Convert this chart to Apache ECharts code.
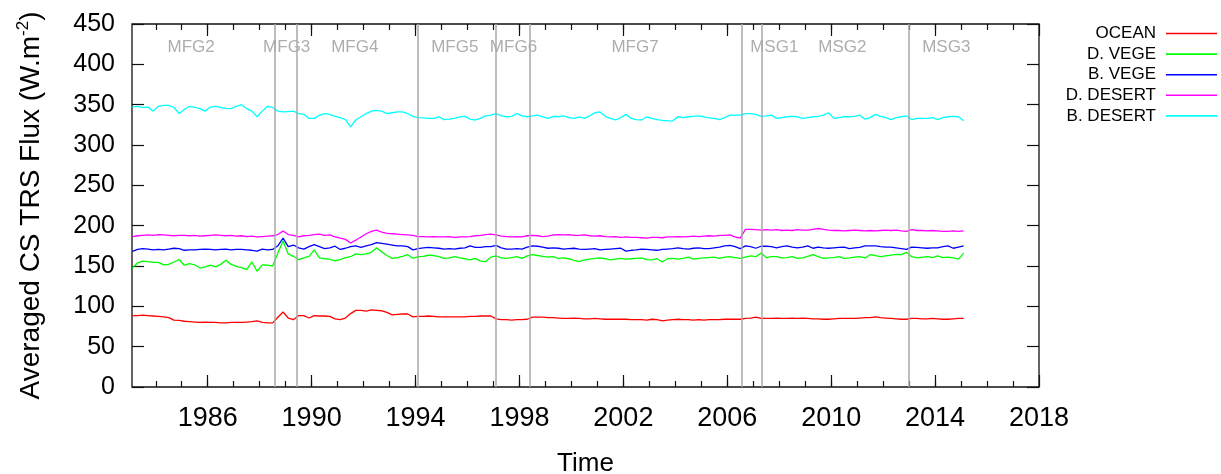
<!DOCTYPE html>
<html><head><meta charset="utf-8">
<script src="https://cdn.jsdelivr.net/npm/echarts@6/dist/echarts.min.js"></script>
<style>html,body{margin:0;padding:0;background:#fff}#c{width:1221px;height:474px}</style>
</head><body><div id="c"></div>
<script>
// sampling of the time axis (decimal years)
const START_YEAR = 1983.1;
const STEP = 0.2;

const ocean = [
88.5,88.5,89,88.5,88,87.5,87,86,83,82.5,
81.5,81,80.5,80,80.5,80,80,79.5,79.5,80,
80,80,80.5,81,82,80,79.5,79.5,86.5,93,
85.5,83.5,88.5,88.5,85.5,88.5,88,88,87.5,84.5,
83.5,85.5,91,95,95,94,95.5,95,94.5,92.5,
89.5,90,90.5,90.5,87,87.5,87.5,88,87.5,87,
87,87,87,87,87,87.5,87.5,88,88,88,
84.5,83.5,83.5,83,83.5,83.5,84,86.5,86.5,86.5,
86,86,85.5,85,85,85.5,85,84.5,84.5,85,
84.5,84,84,84,84,84,83.5,83.5,83.5,83,
84,83.5,82,83,83.5,84,83.5,83.5,83,83.5,
83,83.5,83.5,83.5,84,84,84,84,85,85.5,
86.5,85,85,85,85.5,85,85,85.5,85,85.5,
85,84.5,84.5,84,84,84.5,85,85,85,85,
85.5,86,86,87,86,85.5,85,84.5,84,84,
85,85,84.5,84.5,85,84.5,84,84,84.5,85,
85];
const dVege = [
147.5,154,156,155.5,154.5,154.5,151.5,152,155,158,
151,153,151.5,147.5,149,151,149,152,157,152,
149.5,148,145.5,155,143.5,151.5,151,150,166,181,
165,162,158,160,162,170,160,159,158.5,156.5,
158,160.5,161.5,165,164,165,167,172.5,167.5,163,
159.5,160.5,162,164,159.5,161.5,162,163.5,163,161.5,
159.5,160,161.5,160,159,157.5,159.5,156,155.5,161,
162.5,160,159.5,160.5,161.5,159.5,162.5,164,163,162,
161,161.5,159.5,160,159,157,155.5,157.5,158.5,159.5,
160,159,157.5,158.5,159.5,158.5,159,159.5,160,158,
157.5,159,155,159,159.5,158.5,159.5,161,158.5,159.5,
160,160.5,161,159.5,161,161.5,160.5,159.5,161,162.5,
161.5,166,160.5,161.5,161.5,160,160.5,161.5,159.5,160,
162,164,161.5,159.5,160,160.5,161.5,159.5,160,161,
161.5,160,164,163,161.5,162.5,163.5,164.5,164,167,
161.5,160,161,161.5,160.5,162.5,160.5,161,160,158.5,
166];
const bVege = [
168,170.5,171.5,171,170,170.5,170,171,172,171.5,
169.5,170,170,170.5,171,170.5,170,170.5,171,170,
170.5,170.5,170,169.5,168.5,171,170,170.5,175,184.5,
174,176,172.5,171,174,176.5,174,171.5,172.5,174.5,
170.5,172,174,175,173,175,176.5,179,178,177,
176,175,175,174,170,171.5,172.5,173,172.5,172,
171,171.5,171,172,172.5,175,173,173,174,174,
175.5,172.5,171,171,171.5,171,173.5,175,174.5,173.5,
172,172.5,172,171,171.5,172,171,170.5,171,171.5,
170,170.5,171,171.5,172,168.5,169.5,170,171,170.5,
170,169.5,170.5,171,171.5,172.5,171.5,171,172,172.5,
171.5,171.5,172.5,173.5,175,175.5,174,171.5,175,174,
172,174.5,174.5,174,172.5,174,175,173.5,172.5,173.5,
175,172,173.5,172.5,172,172.5,173,173.5,171.5,172.5,
173,175,175,175,174,173.5,173.5,172.5,171.5,170.5,
173.5,173,172.5,172,172.5,172.5,174,175,172,173.5,
175];
const dDesert = [
186.5,187.5,188,188.5,188,189,188.5,188,187.5,188,
188,187.5,188,187,187.5,188,188.5,188,187.5,188,
187,187.5,186.5,187,186,186.5,187,187.5,189,193.5,
189,188,186,187.5,188,189,189.5,188,188.5,186,
184.5,183,178.5,182,186,190,193,194.5,192,190.5,
190,189.5,189,188.5,188,186.5,186.5,186,186.5,186,
186,186.5,185.5,186,186,186.5,187.5,188,189,189.5,
188.5,187,186.5,186,186.5,186,187.5,188,187.5,186.5,
187,188.5,189,188.5,189,188,188,188.5,187.5,187,
187.5,186.5,186,186.5,185.5,186,185.5,185.5,185,184.5,
185.5,185.5,185,186,186,186.5,186,186.5,187,186.5,
187,187.5,187,188,188,188.5,186,184.5,195.5,195.5,
195,194.5,195,194.5,195,194,194.5,194,195,194.5,
194.5,195.5,196.5,195.5,194.5,194,194,193.5,194,194.5,
194,193.5,194,193.5,194,194.5,194,194.5,193.5,193,
195,194,194,193.5,194,193.5,193,193,193.5,193,
193.5];
const bDesert = [
347,348,346.5,347,342,348,349,349,346.5,339,
344,348,346.5,345,342,347,348,346.5,345.5,345,
348,350,345,342,335,342,348,346.5,342,341,
341.5,342,339,338,333,333,337,339,338,335.5,
334,331.5,322.5,331,335,339,342,343,342,339,
340,341,341,339,335.5,334,333.5,333,333,335,
331.5,332,333,335,335.5,332,331,333,336,337,
339,336,335,335.5,339,336,335,336,337,335,
333,335.5,335,336,334,333,335,333,336,340,
341,335.5,333,331,334,338,333,331.5,331,335,
333,331.5,330.5,330,330,335,334,335,335.5,336,
335,333.5,333,331.5,334,337,337,337,339,339,
338,335.5,336,337,333,334,335,335.5,335,333,
334,335,335.5,337,340,333,334,335,335,335.5,
337,332,334,338,335.5,334,331.5,334,335,336,
331.5,333,333,333,334,331.5,334,335,335.5,335,
330];

const seriesNames = ['OCEAN', 'D. VEGE', 'B. VEGE', 'D. DESERT', 'B. DESERT'];
const seriesValues = [ocean, dVege, bVege, dDesert, bDesert];
const seriesColors = ['#ff0000', '#00ff00', '#0000ff', '#ff00ff', '#00ffff'];

const xMajorTicks = [1986, 1990, 1994, 1998, 2002, 2006, 2010, 2014, 2018];
const xMinorTicks = [1984,1985,1986,1987,1988,1989,1990,1991,1992,1993,1994,1995,1996,1997,1998,1999,2000,
  2001,2002,2003,2004,2005,2006,2007,2008,2009,2010,2011,2012,2013,2014,2015,2016,2017];
const X_MIN = 1983.085, X_MAX = 2018;
const Y_MIN = 0, Y_MAX = 450, Y_STEP = 50;

// satellite change dates (vertical lines) and satellite names
const transitions = [1988.59, 1989.44, 1994.07, 1997.10, 1998.40, 2006.54, 2007.33, 2013.0];
const satNames = ['MFG2', 'MFG3', 'MFG4', 'MFG5', 'MFG6', 'MFG7', 'MSG1', 'MSG2', 'MSG3'];
const satLabelYears = [1985.36, 1989.04, 1991.66, 1995.51, 1997.77, 2002.45, 2007.81, 2010.43, 2014.43];
const SAT_LABEL_LEVEL = 421;

const FONT = 'Liberation Sans, Arial, sans-serif';
const TICK_LINE = { color: '#111', width: 1.2 };

function xAxisDef(pos, ticks, len, labels) {
  return {
    type: 'value', position: pos, min: X_MIN, max: X_MAX,
    axisLine: { show: false }, splitLine: { show: false },
    axisTick: { show: true, inside: true, length: len, customValues: ticks, lineStyle: TICK_LINE },
    axisLabel: labels ? {
      show: true, customValues: xMajorTicks, fontSize: 27, fontFamily: FONT, color: '#000', margin: 18,
      formatter: v => String(Math.round(v))
    } : { show: false },
    name: labels ? 'Time' : '', nameLocation: 'middle', nameGap: 64,
    nameTextStyle: { fontSize: 26, fontFamily: FONT, color: '#000' }
  };
}

const times = ocean.map((_, i) => +(START_YEAR + i * STEP).toFixed(3));

const series = seriesNames.map((n, k) => ({
  name: n, type: 'line', xAxisIndex: 0, yAxisIndex: 0,
  data: seriesValues[k].map((v, i) => [times[i], v]),
  symbol: 'none', showSymbol: false,
  lineStyle: { color: seriesColors[k], width: 1.3 },
  itemStyle: { color: seriesColors[k] },
  z: 3, silent: true
}));

series.push({
  type: 'line', name: 'transitions', data: [], xAxisIndex: 0, yAxisIndex: 0, z: 2, silent: true,
  markLine: {
    silent: true, symbol: ['none', 'none'], animation: false,
    label: { show: false },
    lineStyle: { color: '#a8a8a8', width: 1.5, type: 'solid' },
    data: transitions.map(t => ({ xAxis: t }))
  }
});

series.push({
  type: 'scatter', name: 'sats', xAxisIndex: 0, yAxisIndex: 0, z: 4, silent: true,
  symbolSize: 1, itemStyle: { color: 'rgba(0,0,0,0)' },
  data: satNames.map((n, i) => [satLabelYears[i], SAT_LABEL_LEVEL, n]),
  label: { show: true, position: 'inside', formatter: p => p.data[2], color: '#999999', fontSize: 17, fontFamily: FONT }
});

const option = {
  animation: false,
  backgroundColor: '#fff',
  grid: {
    left: 132, top: 24, width: 907, height: 363, outerBoundsMode: 'none', containLabel: false,
    show: true, borderColor: '#111', borderWidth: 1.3, backgroundColor: 'transparent'
  },
  legend: {
    data: seriesNames.map((n, k) => ({ name: n, icon: 'path://M0,0 L51,0 L51,1.6 L0,1.6 Z', itemStyle: { color: seriesColors[k] } })),
    orient: 'vertical', right: 4, top: 25, align: 'right', padding: 0,
    itemWidth: 51, itemHeight: 14, itemGap: 3.6, symbolKeepAspect: true,
    textStyle: { fontSize: 17, fontFamily: FONT, color: '#000', padding: [0, 5, 0, 0], lineHeight: 14 }
  },
  xAxis: [
    xAxisDef('bottom', xMajorTicks, 12, true),
    xAxisDef('bottom', xMinorTicks, 6, false),
    xAxisDef('top', xMajorTicks, 12, false),
    xAxisDef('top', xMinorTicks, 6, false)
  ],
  yAxis: [
    {
      type: 'value', position: 'left', min: Y_MIN, max: Y_MAX, interval: Y_STEP,
      axisLine: { show: false }, splitLine: { show: false },
      axisTick: { show: true, inside: true, length: 12, lineStyle: TICK_LINE },
      axisLabel: { fontSize: 25, fontFamily: FONT, color: '#000', margin: 17 },
      name: '{t|Averaged CS TRS Flux (W.m}{s|-2}{t|)}',
      nameLocation: 'middle', nameRotate: 90, nameGap: 85,
      nameTextStyle: {
        color: '#000', fontFamily: FONT, fontSize: 28,
        rich: {
          t: { fontSize: 28, fontFamily: FONT, color: '#000', lineHeight: 32 },
          s: { fontSize: 17, fontFamily: FONT, color: '#000', verticalAlign: 'top', lineHeight: 32, padding: [0, 0, 11, 0] }
        }
      }
    },
    {
      type: 'value', position: 'right', min: Y_MIN, max: Y_MAX, interval: Y_STEP,
      axisLine: { show: false }, splitLine: { show: false },
      axisTick: { show: true, inside: true, length: 12, lineStyle: TICK_LINE },
      axisLabel: { show: false }
    }
  ],
  series: series
};

const chart = echarts.init(document.getElementById('c'), null, { renderer: 'canvas' });
chart.setOption(option);
</script>
</body></html>
